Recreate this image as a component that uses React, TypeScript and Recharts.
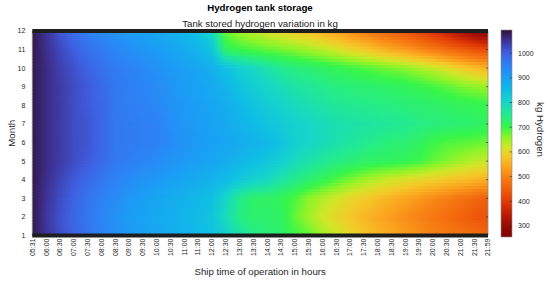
import React from 'react';
import { ScatterChart, Scatter, XAxis, YAxis, ReferenceArea, ReferenceLine } from 'recharts';

const FONT = "'Liberation Sans', Arial, Helvetica, sans-serif";

const MONTHS = [1, 2, 3, 4, 5, 6, 7, 8, 9, 10, 11, 12];
const TIME_LABELS = ['05:31', '06:00', '06:30', '07:00', '07:30', '08:00', '08:30', '09:00', '09:30', '10:00', '10:30', '11:00', '11:30', '12:00', '12:30', '13:00', '13:30', '14:00', '14:30', '15:00', '15:30', '16:00', '16:30', '17:00', '17:30', '18:00', '18:30', '19:00', '19:30', '20:00', '20:30', '21:00', '21:30', '21:59'];

// kg of hydrogen stored, per month, at each time label
const H2_M1 = [1085, 1050, 1020, 995, 970, 950, 930, 910, 900, 890, 880, 870, 860, 845, 810, 775, 750, 735, 725, 700, 680, 650, 625, 600, 580, 560, 545, 530, 515, 500, 490, 480, 470, 460];
const H2_M2 = [1085, 1045, 1015, 990, 965, 945, 925, 905, 895, 885, 875, 865, 855, 835, 790, 745, 725, 725, 720, 680, 650, 620, 600, 580, 560, 545, 530, 515, 500, 485, 470, 455, 440, 430];
const H2_M3 = [1085, 1050, 1020, 995, 970, 950, 935, 915, 900, 890, 880, 870, 860, 845, 800, 750, 725, 720, 710, 690, 660, 640, 620, 600, 585, 570, 555, 540, 525, 510, 495, 480, 465, 450];
const H2_M4 = [1085, 1055, 1030, 1005, 985, 965, 950, 935, 920, 910, 900, 890, 880, 870, 855, 830, 810, 795, 770, 750, 730, 710, 690, 670, 650, 635, 620, 610, 600, 590, 580, 570, 560, 555];
const H2_M5 = [1085, 1060, 1040, 1020, 1005, 985, 965, 955, 945, 935, 920, 910, 900, 890, 880, 865, 850, 835, 815, 790, 775, 760, 745, 735, 725, 720, 715, 710, 700, 680, 665, 650, 635, 625];
const H2_M6 = [1085, 1060, 1040, 1020, 1010, 990, 965, 960, 955, 950, 935, 920, 910, 900, 890, 880, 870, 860, 840, 815, 800, 790, 775, 765, 755, 745, 735, 730, 720, 700, 690, 685, 680, 675];
const H2_M7 = [1085, 1060, 1040, 1020, 1010, 990, 965, 960, 955, 950, 930, 915, 905, 895, 885, 870, 855, 840, 825, 810, 800, 790, 780, 775, 770, 765, 760, 755, 745, 740, 735, 730, 725, 715];
const H2_M8 = [1085, 1060, 1040, 1020, 1005, 990, 965, 955, 950, 940, 925, 910, 900, 890, 880, 860, 840, 820, 805, 790, 780, 770, 760, 755, 750, 745, 740, 735, 730, 725, 720, 715, 710, 705];
const H2_M9 = [1085, 1060, 1040, 1020, 1005, 985, 965, 955, 945, 935, 920, 905, 895, 885, 865, 840, 820, 800, 785, 770, 760, 750, 740, 735, 730, 725, 720, 715, 705, 695, 685, 670, 660, 650];
const H2_M10 = [1085, 1060, 1035, 1015, 995, 975, 960, 950, 940, 925, 910, 900, 890, 875, 845, 815, 795, 775, 755, 740, 730, 720, 710, 700, 690, 680, 670, 660, 645, 630, 610, 590, 570, 555];
const H2_M11 = [1085, 1055, 1025, 1000, 975, 960, 945, 930, 915, 905, 895, 880, 865, 835, 720, 700, 690, 680, 670, 660, 648, 635, 620, 600, 585, 565, 545, 530, 510, 490, 470, 450, 430, 420];
const H2_M12 = [1085, 1050, 1010, 980, 955, 935, 920, 905, 895, 885, 875, 860, 845, 800, 675, 645, 630, 615, 600, 585, 570, 550, 530, 510, 490, 470, 450, 430, 405, 380, 350, 320, 290, 265];

const CB_TICKS = [300, 400, 500, 600, 700, 800, 900, 1000];
const C_MIN = 255;
const C_MAX = 1094;

// colour map (value -> rgb)
const CMAP: [number, number, number, number][] = [
  [1094, 48, 18, 59],
  [1050, 62, 50, 150],
  [1000, 62, 95, 225],
  [950, 45, 130, 245],
  [900, 25, 160, 245],
  [850, 15, 190, 228],
  [800, 22, 214, 200],
  [750, 35, 235, 140],
  [700, 55, 246, 72],
  [660, 140, 245, 40],
  [620, 210, 230, 40],
  [580, 245, 200, 40],
  [540, 250, 165, 30],
  [500, 248, 130, 20],
  [450, 240, 95, 10],
  [400, 225, 60, 5],
  [350, 190, 28, 5],
  [300, 150, 10, 4],
  [255, 122, 4, 3],
];

const ROWS = [H2_M1, H2_M2, H2_M3, H2_M4, H2_M5, H2_M6, H2_M7, H2_M8, H2_M9, H2_M10, H2_M11, H2_M12];
const N = TIME_LABELS.length;
const LAST = N - 1;
const TICK_IDX = TIME_LABELS.map((_, i) => i);
const STRIPS = 6;

function colorOf(v: number): string {
  const x = Math.max(C_MIN, Math.min(C_MAX, v));
  for (let k = 0; k < CMAP.length - 1; k++) {
    const a = CMAP[k];
    const b = CMAP[k + 1];
    if (x <= a[0] && x >= b[0]) {
      const f = (a[0] - x) / (a[0] - b[0]);
      const c = (i: number) => Math.round(a[i] + (b[i] - a[i]) * f);
      return `rgb(${c(1)},${c(2)},${c(3)})`;
    }
  }
  const l = CMAP[CMAP.length - 1];
  return `rgb(${l[1]},${l[2]},${l[3]})`;
}

type Stop = { o: number; c: string };
type Strip = { id: string; y1: number; y2: number; stops: Stop[] };

const STRIP_LIST: Strip[] = [];
for (let i = ROWS.length - 2; i >= 0; i--) {
  for (let s = STRIPS - 1; s >= 0; s--) {
    const f = (s + 0.5) / STRIPS;
    const vals = ROWS[i].map((v, j) => v + (ROWS[i + 1][j] - v) * f);
    const stops: Stop[] = [];
    vals.forEach((v, j) => {
      stops.push({ o: j / LAST, c: colorOf(v) });
      if (j < LAST) stops.push({ o: (j + 0.5) / LAST, c: colorOf((v + vals[j + 1]) / 2) });
    });
    STRIP_LIST.push({ id: `h2s-${i}-${s}`, y1: MONTHS[i] + s / STRIPS, y2: MONTHS[i] + (s + 1) / STRIPS, stops });
  }
}

const NODES = MONTHS.flatMap((m) => TICK_IDX.map((j) => ({ x: j, y: m })));
const CB_DATA = CB_TICKS.map((v) => ({ x: 1, v }));
const CB_STOPS = Array.from({ length: 61 }, (_, k) => k / 60);

const XTick = (props: any) => {
  const { x, y, payload } = props;
  return (
    <g transform={`translate(${x},${y})`}>
      <text transform="rotate(-90)" textAnchor="end" dy="0.35em" fontSize={7} fill="#262626" fontFamily={FONT}>
        {TIME_LABELS[payload.value]}
      </text>
    </g>
  );
};

const xLabel = (props: any) => {
  const vb = props.viewBox;
  return (
    <text x={vb.x + vb.width / 2} y={vb.y + vb.height - 6} textAnchor="middle" fontSize={9.7} fill="#262626" fontFamily={FONT}>
      Ship time of operation in hours
    </text>
  );
};

const yLabel = (props: any) => {
  const vb = props.viewBox;
  const x = vb.x + 11;
  const y = vb.y + vb.height / 2;
  return (
    <text x={x} y={y} transform={`rotate(-90, ${x}, ${y})`} textAnchor="middle" dominantBaseline="central" fontSize={9.7} fill="#262626" fontFamily={FONT}>
      Month
    </text>
  );
};

const cbLabel = (props: any) => {
  const vb = props.viewBox;
  const x = vb.x + 28;
  const y = vb.y + vb.height / 2 - 4;
  return (
    <text x={x} y={y} transform={`rotate(90, ${x}, ${y})`} textAnchor="middle" dominantBaseline="central" fontSize={9.7} fill="#262626" fontFamily={FONT}>
      kg Hydrogen
    </text>
  );
};

export default function App() {
  return (
    <div style={{ position: 'absolute', left: 0, top: 0, width: 550, height: 281, background: '#fff', fontFamily: FONT }}>
      <div style={{ position: 'absolute', left: 0, top: 0 }}>
        <ScatterChart width={550} height={281} margin={{ top: 31, right: 62, bottom: 0, left: 0 }}>
          <defs>
            {STRIP_LIST.map((st) => (
              <linearGradient key={st.id} id={st.id} x1="0" y1="0" x2="1" y2="0">
                {st.stops.map((sp, k) => (
                  <stop key={k} offset={sp.o} stopColor={sp.c} />
                ))}
              </linearGradient>
            ))}
          </defs>
          <XAxis
            type="number"
            dataKey="x"
            domain={[0, LAST]}
            ticks={TICK_IDX}
            interval={0}
            tick={<XTick />}
            tickSize={2}
            tickMargin={1}
            tickLine={false}
            axisLine={false}
            height={45.5}
            label={xLabel}
            allowDataOverflow
          />
          <YAxis
            type="number"
            dataKey="y"
            domain={[1, 12]}
            ticks={MONTHS}
            interval={0}
            width={32.3}
            tickSize={5}
            tickMargin={2}
            tickLine={false}
            axisLine={false}
            tick={{ fontSize: 7, fill: '#262626', fontFamily: FONT }}
            label={yLabel}
            allowDataOverflow
          />
          <Scatter data={NODES} shape={() => <g />} isAnimationActive={false} />
          {STRIP_LIST.map((st) => (
            <ReferenceArea
              key={st.id}
              x1={0}
              x2={LAST}
              y1={st.y1}
              y2={st.y2}
              ifOverflow="visible"
              shape={(p: any) => (
                <rect x={p.x} y={p.y} width={p.width} height={p.height + 0.8} fill={`url(#${st.id})`} />
              )}
            />
          ))}
          <ReferenceLine x={0} stroke="#8a8a8a" strokeWidth={0.8} ifOverflow="visible" />
          <ReferenceLine x={LAST} stroke="#8a8a8a" strokeWidth={0.8} ifOverflow="visible" />
          {MONTHS.slice(1, -1).map((m) => (
            <ReferenceLine key={m} segment={[{ x: LAST - 0.15, y: m }, { x: LAST, y: m }]} stroke="#262626" strokeWidth={0.6} ifOverflow="visible" />
          ))}
          <ReferenceLine y={12} stroke="#1e1e1e" strokeWidth={4} ifOverflow="visible" />
          <ReferenceLine y={1} stroke="#1e1e1e" strokeWidth={4} ifOverflow="visible" />
        </ScatterChart>
      </div>
      <div style={{ position: 'absolute', left: 490, top: 0 }}>
        <ScatterChart width={60} height={281} margin={{ top: 30, right: 0, bottom: 44, left: 11 }}>
          <defs>
            <linearGradient id="cbgrad" x1="0" y1="0" x2="0" y2="1">
              {CB_STOPS.map((o, k) => (
                <stop key={k} offset={o} stopColor={colorOf(C_MAX - o * (C_MAX - C_MIN))} />
              ))}
            </linearGradient>
          </defs>
          <XAxis type="number" dataKey="x" domain={[0, 1]} hide />
          <YAxis
            type="number"
            dataKey="v"
            orientation="right"
            domain={[C_MIN, C_MAX]}
            ticks={CB_TICKS}
            interval={0}
            width={38}
            tickSize={4}
            tickMargin={2}
            tickLine={false}
            axisLine={false}
            tick={{ fontSize: 7, fill: '#262626', fontFamily: FONT }}
            label={cbLabel}
            allowDataOverflow
          />
          <Scatter data={CB_DATA} shape={() => <g />} isAnimationActive={false} />
          <ReferenceArea x1={0} x2={1} y1={C_MIN} y2={C_MAX} fill="url(#cbgrad)" fillOpacity={1} stroke="#8c8c8c" strokeWidth={0.6} ifOverflow="visible" />
          {CB_TICKS.map((v) => (
            <ReferenceLine key={v} segment={[{ x: 0.78, y: v }, { x: 1, y: v }]} stroke="#333" strokeWidth={0.6} ifOverflow="visible" />
          ))}
        </ScatterChart>
      </div>
      <svg width={550} height={31} style={{ position: 'absolute', left: 0, top: 0 }}>
        <text x={260} y={11.2} textAnchor="middle" fontSize={9.7} fontWeight="bold" fill="#000" fontFamily={FONT}>
          Hydrogen tank storage
        </text>
        <text x={260} y={27} textAnchor="middle" fontSize={9.7} fill="#222" fontFamily={FONT}>
          Tank stored hydrogen variation in kg
        </text>
      </svg>
    </div>
  );
}
